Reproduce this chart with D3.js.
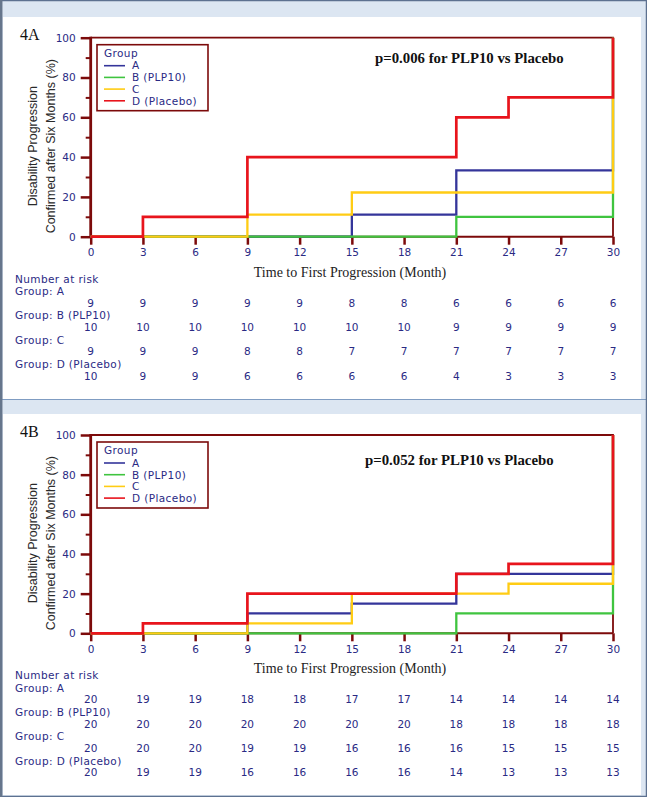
<!DOCTYPE html>
<html>
<head>
<meta charset="utf-8">
<script src="https://cdn.jsdelivr.net/npm/d3@7"></script>
<style>
  html, body { margin: 0; padding: 0; background: #ffffff; }
  svg { display: block; }
</style>
</head>
<body>
<svg id="chart" width="647" height="797"></svg>
<script>
// ---------- DATA ----------
const months = [0, 3, 6, 9, 12, 15, 18, 21, 24, 27, 30];
const yTicks = [0, 20, 40, 60, 80, 100];
const yMinorTicks = [10, 30, 50, 70, 90];
const groupNames = ["A", "B (PLP10)", "C", "D (Placebo)"];
const riskLabels = ["Group: A", "Group: B (PLP10)", "Group: C", "Group: D (Placebo)"];
const groupColors = ["#34359a", "#3fc43f", "#ffcc14", "#e8141c"];

// Panel 4A: step curves (time of step, cumulative % after step)
const a_timesA = [0, 15, 21, 30];
const a_valsA  = [0, 11.1, 33.3, 100];
const a_timesB = [0, 21, 30];
const a_valsB  = [0, 10, 100];
const a_timesC = [0, 9, 15, 30];
const a_valsC  = [0, 11.1, 22.2, 100];
const a_timesD = [0, 3, 9, 21, 24, 30];
const a_valsD  = [0, 10, 40, 60, 70, 100];
const a_riskA = [9, 9, 9, 9, 9, 8, 8, 6, 6, 6, 6];
const a_riskB = [10, 10, 10, 10, 10, 10, 10, 9, 9, 9, 9];
const a_riskC = [9, 9, 9, 8, 8, 7, 7, 7, 7, 7, 7];
const a_riskD = [10, 9, 9, 6, 6, 6, 6, 4, 3, 3, 3];

// Panel 4B
const b_timesA = [0, 9, 15, 21, 30];
const b_valsA  = [0, 10, 15, 30, 100];
const b_timesB = [0, 21, 30];
const b_valsB  = [0, 10, 100];
const b_timesC = [0, 9, 15, 24, 30];
const b_valsC  = [0, 5, 20, 25, 100];
const b_timesD = [0, 3, 9, 21, 24, 30];
const b_valsD  = [0, 5, 20, 30, 35, 100];
const b_riskA = [20, 19, 19, 18, 18, 17, 17, 14, 14, 14, 14];
const b_riskB = [20, 20, 20, 20, 20, 20, 20, 18, 18, 18, 18];
const b_riskC = [20, 20, 20, 19, 19, 16, 16, 16, 15, 15, 15];
const b_riskD = [20, 19, 19, 16, 16, 16, 16, 14, 13, 13, 13];

// ---------- STYLE ----------
const maroon = "#7c0a0a";
const navy = "#2a2a84";
const sans = "'Liberation Sans', Arial, sans-serif";
const wide = "'DejaVu Sans', Verdana, sans-serif";
const serif = "'Liberation Serif', 'Times New Roman', serif";
const fs = 10.5;
const ls = 0.4;

const svg = d3.select("#chart");

// background frame
svg.append("rect").attr("x", 0).attr("y", 0).attr("width", 647).attr("height", 797).attr("fill", "#dce6f2");
svg.append("rect").attr("x", 3).attr("y", 17).attr("width", 638).attr("height", 382).attr("fill", "#ffffff");
svg.append("rect").attr("x", 3).attr("y", 414).attr("width", 638).attr("height", 381).attr("fill", "#ffffff");
svg.append("line").attr("x1", 0).attr("x2", 647).attr("y1", 399.5).attr("y2", 399.5).attr("stroke", "#7f9cc2").attr("stroke-width", 1);
svg.append("rect").attr("x", 0.5).attr("y", 0.5).attr("width", 646).attr("height", 796)
  .attr("fill", "none").attr("stroke", "#5d7190").attr("stroke-width", 1.5);
svg.append("line").attr("x1", 1.2).attr("x2", 1.2).attr("y1", 0).attr("y2", 797).attr("stroke", "#66768c").attr("stroke-width", 2.5);

function drawPanel(cfg) {
  const x = d3.scaleLinear().domain([0, 30]).range([90.7, 613]);
  const y = d3.scaleLinear().domain([0, 100]).range([cfg.y0, cfg.y100]);
  const g = svg.append("g");

  // panel label
  g.append("text").attr("x", 20).attr("y", cfg.y100 + 2).attr("font-family", serif)
    .attr("font-size", 16).attr("fill", "#111").text(cfg.label);

  // frame top and right
  g.append("path").attr("d", `M${x(0)},${y(100)}H${x(30)}V${y(0)}`)
    .attr("fill", "none").attr("stroke", maroon).attr("stroke-width", 1.8);

  // x axis line
  g.append("line").attr("x1", x(0)).attr("x2", x(30)).attr("y1", y(0)).attr("y2", y(0))
    .attr("stroke", maroon).attr("stroke-width", 2);

  // x axis ticks + labels
  const xAxis = d3.axisBottom(x).tickValues(months).tickSize(8).tickPadding(4).tickFormat(d3.format("d"));
  const xa = g.append("g").attr("transform", `translate(0,${y(0)})`).call(xAxis);
  xa.select(".domain").remove();
  xa.selectAll(".tick line").attr("stroke", maroon).attr("stroke-width", 2.5);
  xa.selectAll(".tick text").attr("fill", navy).attr("font-family", wide).attr("font-size", fs);

  // y axis
  const yAxis = d3.axisLeft(y).tickValues(yTicks).tickSize(10).tickPadding(5).tickFormat(d3.format("d"));
  const ya = g.append("g").attr("transform", `translate(${x(0)},0)`).call(yAxis);
  ya.select(".domain").remove();
  ya.selectAll(".tick line").attr("stroke", maroon).attr("stroke-width", 2.5);
  ya.selectAll(".tick text").attr("fill", navy).attr("font-family", wide).attr("font-size", fs);
  const yMinor = d3.axisLeft(y).tickValues(yMinorTicks).tickSize(5).tickFormat("");
  const ym = g.append("g").attr("transform", `translate(${x(0)},0)`).call(yMinor);
  ym.select(".domain").remove();
  ym.selectAll(".tick line").attr("stroke", maroon).attr("stroke-width", 2);
  g.append("line").attr("x1", x(0)).attr("x2", x(0)).attr("y1", y(100) - 1).attr("y2", y(0) + 1)
    .attr("stroke", maroon).attr("stroke-width", 2.8);

  // curves
  const line = d3.line().x(d => x(d[0])).y(d => y(d[1])).curve(d3.curveStepAfter);
  cfg.series.forEach((s, i) => {
    const pts = s.times.map((t, k) => [t, s.vals[k]]);
    g.append("path").attr("d", line(pts)).attr("fill", "none")
      .attr("stroke", groupColors[i]).attr("stroke-width", i === 3 ? 2.7 : 2.3);
  });

  // p-value text
  g.append("text").attr("x", cfg.pX).attr("y", cfg.y100 + cfg.pDy).attr("font-family", serif)
    .attr("font-weight", "bold").attr("font-size", 14.8).attr("fill", "#111").text(cfg.pText);

  // legend
  const lg = g.append("g").attr("transform", `translate(97,${cfg.y100 + 7})`);
  lg.append("rect").attr("x", 0).attr("y", 0).attr("width", 111).attr("height", 66)
    .attr("fill", "#fff").attr("stroke", maroon).attr("stroke-width", 1.6);
  lg.append("text").attr("x", 7).attr("y", 12).attr("font-family", wide).attr("font-size", fs)
    .attr("letter-spacing", ls).attr("fill", navy).text("Group");
  groupNames.forEach((n, i) => {
    const cy = 21 + i * 11.7;
    lg.append("line").attr("x1", 7).attr("x2", 28).attr("y1", cy).attr("y2", cy)
      .attr("stroke", groupColors[i]).attr("stroke-width", 1.6);
    lg.append("text").attr("x", 35).attr("y", cy + 3.8).attr("font-family", wide).attr("font-size", fs)
      .attr("letter-spacing", ls).attr("fill", navy).text(n);
  });

  // y title
  const cy = (y(0) + y(100)) / 2 + 9;
  g.append("text").attr("transform", `translate(37,${cy}) rotate(-90)`).attr("text-anchor", "middle")
    .attr("font-family", sans).attr("font-size", 12.5).attr("fill", "#2a2a2a").text("Disability Progression");
  g.append("text").attr("transform", `translate(54.5,${cy}) rotate(-90)`).attr("text-anchor", "middle")
    .attr("font-family", sans).attr("font-size", 12.5).attr("fill", "#2a2a2a").text("Confirmed after Six Months (%)");

  // x title
  g.append("text").attr("x", 350).attr("y", y(0) + 40).attr("text-anchor", "middle")
    .attr("font-family", serif).attr("font-size", 14).attr("fill", "#222").text("Time to First Progression (Month)");

  // number at risk
  const base = y(0) + 46;
  g.append("text").attr("x", 15).attr("y", base).attr("font-family", wide).attr("font-size", fs)
    .attr("letter-spacing", ls).attr("fill", navy).text("Number at risk");
  cfg.risk.forEach((r, i) => {
    const ly = base + 12.3 + i * 24.3;
    g.append("text").attr("x", 15).attr("y", ly).attr("font-family", wide).attr("font-size", fs)
      .attr("letter-spacing", ls).attr("fill", navy).text(riskLabels[i]);
    g.selectAll(null).data(r).enter().append("text")
      .attr("x", (d, k) => x(months[k])).attr("y", ly + 11.8).attr("text-anchor", "middle")
      .attr("font-family", wide).attr("font-size", fs).attr("fill", navy).text(d => d);
  });
}

drawPanel({
  label: "4A", y0: 236.7, y100: 37.7, pX: 375, pDy: 25, pText: "p=0.006 for PLP10 vs Placebo",
  series: [
    { times: a_timesA, vals: a_valsA }, { times: a_timesB, vals: a_valsB },
    { times: a_timesC, vals: a_valsC }, { times: a_timesD, vals: a_valsD }
  ],
  risk: [a_riskA, a_riskB, a_riskC, a_riskD]
});
drawPanel({
  label: "4B", y0: 633.3, y100: 435, pX: 365, pDy: 30, pText: "p=0.052 for PLP10 vs Placebo",
  series: [
    { times: b_timesA, vals: b_valsA }, { times: b_timesB, vals: b_valsB },
    { times: b_timesC, vals: b_valsC }, { times: b_timesD, vals: b_valsD }
  ],
  risk: [b_riskA, b_riskB, b_riskC, b_riskD]
});
</script>
</body>
</html>
